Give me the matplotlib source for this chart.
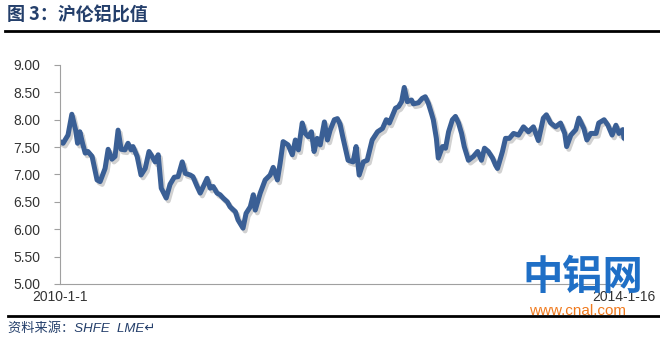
import matplotlib
matplotlib.use("Agg")
import matplotlib.pyplot as plt
import matplotlib.patheffects as pe
import pandas as pd

plt.rcParams["font.family"] = ["Liberation Sans", "Noto Sans CJK SC", "DejaVu Sans"]

# SHFE / LME aluminium price ratio
dates = [
    "2010-01-01", "2010-01-09", "2010-01-22", "2010-02-01", "2010-02-11", "2010-02-16",
    "2010-02-22", "2010-03-01", "2010-03-08", "2010-03-15", "2010-03-26", "2010-04-08",
    "2010-04-16", "2010-04-29", "2010-05-07", "2010-05-17", "2010-05-25", "2010-06-02",
    "2010-06-10", "2010-06-20", "2010-06-28", "2010-07-06", "2010-07-11", "2010-07-22",
    "2010-08-01", "2010-08-12", "2010-08-22", "2010-08-30", "2010-09-07", "2010-09-15",
    "2010-09-23", "2010-10-06", "2010-10-16", "2010-10-27", "2010-11-06", "2010-11-17",
    "2010-11-25", "2010-12-08", "2010-12-15", "2010-12-26", "2011-01-03", "2011-01-21",
    "2011-01-29", "2011-02-06", "2011-02-16", "2011-02-24", "2011-03-04", "2011-03-15",
    "2011-03-22", "2011-04-05", "2011-04-12", "2011-04-25", "2011-05-03", "2011-05-14",
    "2011-05-22", "2011-05-27", "2011-06-09", "2011-06-22", "2011-07-05", "2011-07-13",
    "2011-07-24", "2011-07-31", "2011-08-08", "2011-08-21", "2011-09-01", "2011-09-09",
    "2011-09-17", "2011-09-27", "2011-10-05", "2011-10-13", "2011-10-21", "2011-10-28",
    "2011-11-05", "2011-11-13", "2011-11-24", "2011-12-02", "2011-12-09", "2011-12-20",
    "2011-12-28", "2012-01-04", "2012-01-11", "2012-01-25", "2012-02-07", "2012-02-15",
    "2012-02-23", "2012-03-05", "2012-03-15", "2012-03-28", "2012-04-11", "2012-04-24",
    "2012-05-04", "2012-05-12", "2012-05-28", "2012-06-05", "2012-06-13", "2012-06-20",
    "2012-06-28", "2012-07-09", "2012-07-14", "2012-07-27", "2012-08-06", "2012-08-14",
    "2012-08-22", "2012-08-30", "2012-09-04", "2012-09-12", "2012-09-17", "2012-09-28",
    "2012-10-06", "2012-10-14", "2012-10-24", "2012-11-01", "2012-11-09", "2012-11-17",
    "2012-11-24", "2012-12-05", "2012-12-18", "2012-12-29", "2013-01-08", "2013-01-16",
    "2013-01-26", "2013-02-06", "2013-02-14", "2013-02-19", "2013-03-04", "2013-03-12",
    "2013-03-22", "2013-04-02", "2013-04-15", "2013-04-28", "2013-05-11", "2013-05-24",
    "2013-06-06", "2013-06-19", "2013-06-27", "2013-07-08", "2013-07-21", "2013-08-03",
    "2013-08-14", "2013-08-19", "2013-08-30", "2013-09-12", "2013-09-20", "2013-10-03",
    "2013-10-11", "2013-10-21", "2013-11-04", "2013-11-11", "2013-11-25", "2013-12-05",
    "2013-12-16", "2013-12-26", "2014-01-03", "2014-01-13", "2014-01-16",
]
ratio = [
    7.60, 7.57, 7.72, 8.10, 7.81, 7.57,
    7.78, 7.57, 7.39, 7.42, 7.33, 6.90,
    6.87, 7.11, 7.46, 7.28, 7.33, 7.81,
    7.46, 7.45, 7.57, 7.45, 7.51, 7.33,
    6.99, 7.11, 7.42, 7.33, 7.23, 7.36,
    6.75, 6.57, 6.82, 6.95, 6.96, 7.23,
    7.02, 6.99, 6.96, 6.78, 6.66, 6.93,
    6.75, 6.78, 6.66, 6.63, 6.57, 6.50,
    6.41, 6.32, 6.17, 6.02, 6.29, 6.41,
    6.63, 6.35, 6.66, 6.90, 6.99, 7.13,
    6.90, 7.20, 7.60, 7.54, 7.36, 7.63,
    7.45, 7.94, 7.75, 7.69, 7.78, 7.42,
    7.66, 7.54, 7.96, 7.63, 7.81, 8.00,
    8.02, 7.92, 7.69, 7.26, 7.23, 7.51,
    6.99, 7.23, 7.26, 7.63, 7.78, 7.84,
    8.00, 7.94, 8.21, 8.24, 8.33, 8.59,
    8.33, 8.36, 8.29, 8.31, 8.39, 8.42,
    8.30, 8.12, 8.00, 7.66, 7.30, 7.51,
    7.48, 7.78, 8.00, 8.06, 7.94, 7.75,
    7.51, 7.26, 7.33, 7.42, 7.26, 7.48,
    7.42, 7.30, 7.17, 7.11, 7.42, 7.66,
    7.66, 7.75, 7.72, 7.87, 7.78, 7.87,
    7.62, 8.03, 8.09, 7.94, 7.87, 7.94,
    7.75, 7.51, 7.72, 7.82, 8.03, 7.84,
    7.63, 7.75, 7.75, 7.94, 8.00, 7.90,
    7.72, 7.90, 7.75, 7.82, 7.66,
]
y_ticks = [5.0, 5.5, 6.0, 6.5, 7.0, 7.5, 8.0, 8.5, 9.0]
x_tick_dates = ["2010-01-01", "2014-01-16"]
x_tick_labels = ["2010-1-1", "2014-1-16"]

x = pd.to_datetime(dates)
xt = pd.to_datetime(x_tick_dates)

fig = plt.figure(figsize=(6.6, 3.42), dpi=100)
ax = fig.add_axes([0.0909, 0.1696, 0.8545, 0.6404])

ax.plot(x, ratio, color="#3A5F95", lw=3.6, solid_joinstyle="round", solid_capstyle="round",
        path_effects=[pe.SimpleLineShadow(offset=(1.5, -2), shadow_color="black", alpha=0.18),
                      pe.Normal()])

ax.set_xlim(xt[0], xt[-1])
ax.set_ylim(5.0, 9.0)
ax.set_yticks(y_ticks)
ax.set_yticklabels([f"{v:.2f}" for v in y_ticks])
ax.set_xticks(xt)
ax.set_xticklabels(x_tick_labels)

for s in ["top", "right"]:
    ax.spines[s].set_visible(False)
for s in ["left", "bottom"]:
    ax.spines[s].set_color("#A0A0A0")
    ax.spines[s].set_linewidth(0.8)
ax.tick_params(axis="y", colors="#A0A0A0", labelcolor="#333333", labelsize=10, length=4, width=0.8, pad=10)
ax.tick_params(axis="x", length=0, labelcolor="#333333", labelsize=10, pad=4)

# title and rules
fig.text(0.01, 0.955, "图 3：沪伦铝比值", fontsize=13, fontweight="bold", color="#243F6B",
         family=["Noto Sans CJK SC", "DejaVu Sans"], va="center", ha="left")
fig.add_artist(plt.Line2D([0.008, 1.0], [0.909, 0.909], color="black", lw=2))
fig.add_artist(plt.Line2D([0.012, 1.0], [0.076, 0.076], color="black", lw=2))
fig.text(0.012, 0.038, "资料来源：SHFE  LME↵", fontsize=9.5, style="italic", color="#243F6B",
         va="center", ha="left")

# watermark
fig.text(0.883, 0.19, "中铝网", fontsize=29, fontweight="bold", color="#1F6FC6",
         family=["Noto Sans CJK SC", "DejaVu Sans"], va="center", ha="center")
fig.text(0.875, 0.092, "www.cnal.com", fontsize=11, color="#F07A1E", va="center", ha="center")

fig.savefig("out.png", dpi=100)
